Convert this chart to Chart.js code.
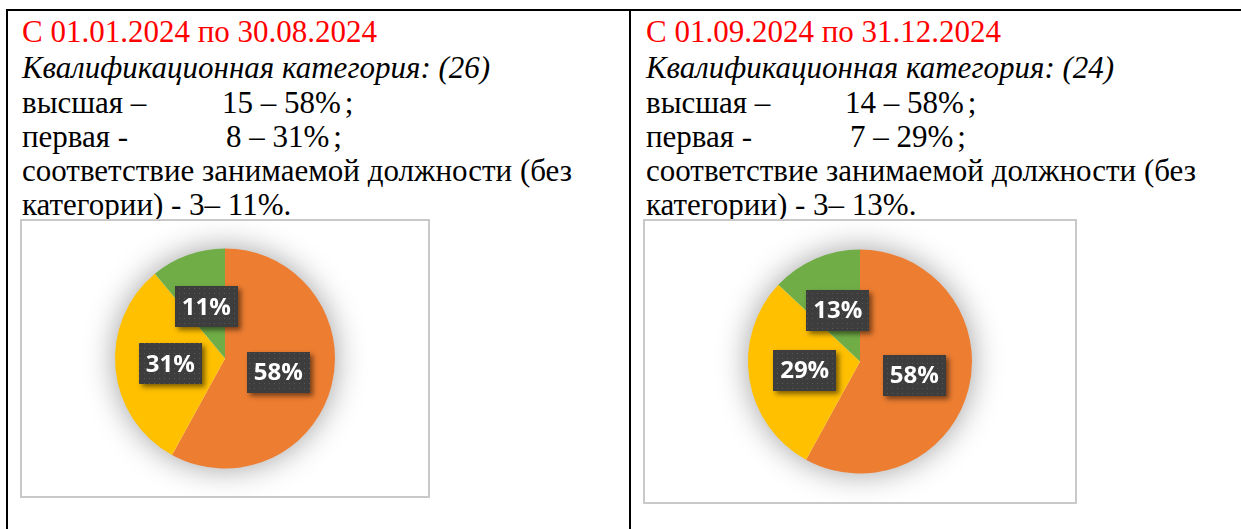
<!DOCTYPE html>
<html>
<head>
<meta charset="utf-8">
<style>
  html, body { margin: 0; padding: 0; background: #fff; }
  body { width: 1241px; height: 529px; position: relative; overflow: hidden; }
  .rule { position: absolute; background: #000; }
  .ln { position: absolute; font-family: 'Liberation Serif', serif !important; font-size: 31px; line-height: 31px; white-space: nowrap; color: #000; }
  .ln span { font-family: 'Liberation Serif', serif !important; }
  .red { color: #ff0000; }
  .it { font-style: italic; }
  .semi { margin-left: 4px; }
  .box { position: absolute; border: 2px solid #c9c9c9; box-sizing: border-box; background: #fff; }
  .box canvas { display: block; }
</style>
<script src="https://cdn.jsdelivr.net/npm/chart.js@4/dist/chart.umd.min.js"></script>
</head>
<body>
<div class="rule" style="left:6px; top:9px; width:1235px; height:2px;"></div>
<div class="rule" style="left:6px; top:9px; width:2px; height:520px;"></div>
<div class="rule" style="left:629px; top:9px; width:2px; height:520px;"></div>

<div class="ln red" style="font-family:'Liberation Serif',serif !important; left:22px; top:16px;">С 01.01.2024 по 30.08.2024</div>
<div class="ln it" style="font-family:'Liberation Serif',serif !important; left:22px; top:52px;">Квалификационная категория: (26)</div>
<div class="ln" style="font-family:'Liberation Serif',serif !important; left:22px; top:87px;">высшая –</div>
<div class="ln" style="font-family:'Liberation Serif',serif !important; left:222px; top:87px;">15 – 58%<span class="semi">;</span></div>
<div class="ln" style="font-family:'Liberation Serif',serif !important; left:22px; top:121px;">первая -</div>
<div class="ln" style="font-family:'Liberation Serif',serif !important; left:226px; top:121px;">8 – 31%<span class="semi">;</span></div>
<div class="ln" style="font-family:'Liberation Serif',serif !important; left:22px; top:155px;">соответствие занимаемой должности (без</div>
<div class="ln" style="font-family:'Liberation Serif',serif !important; left:22px; top:189px;">категории) - 3– 11%.</div>
<div class="box" style="left:20px; top:219px; width:410px; height:279px;"><canvas id="pieA" width="406" height="275"></canvas></div>

<div class="ln red" style="font-family:'Liberation Serif',serif !important; left:646px; top:16px;">С 01.09.2024 по 31.12.2024</div>
<div class="ln it" style="font-family:'Liberation Serif',serif !important; left:646px; top:52px;">Квалификационная категория: (24)</div>
<div class="ln" style="font-family:'Liberation Serif',serif !important; left:646px; top:87px;">высшая –</div>
<div class="ln" style="font-family:'Liberation Serif',serif !important; left:845px; top:87px;">14 – 58%<span class="semi">;</span></div>
<div class="ln" style="font-family:'Liberation Serif',serif !important; left:646px; top:121px;">первая -</div>
<div class="ln" style="font-family:'Liberation Serif',serif !important; left:850px; top:121px;">7 – 29%<span class="semi">;</span></div>
<div class="ln" style="font-family:'Liberation Serif',serif !important; left:646px; top:155px;">соответствие занимаемой должности (без</div>
<div class="ln" style="font-family:'Liberation Serif',serif !important; left:646px; top:189px;">категории) - 3– 13%.</div>
<div class="box" style="left:643px; top:219px; width:434px; height:285px;"><canvas id="pieB" width="430" height="281"></canvas></div>

<script>
const categories = ['высшая', 'первая', 'соответствие занимаемой должности (без категории)'];
const shareA = [58, 31, 11];   // 01.01.2024 - 30.08.2024, %
const shareB = [58, 29, 13];   // 01.09.2024 - 31.12.2024, %
const sliceColors = ['#ED7D31', '#FFC000', '#70AD47'];

// dark dotted fill for the value boxes
function dotPattern(ctx) {
  const c = document.createElement('canvas');
  c.width = 5; c.height = 5;
  const p = c.getContext('2d');
  p.fillStyle = '#3d3d3d';
  p.fillRect(0, 0, 5, 5);
  p.fillStyle = '#585858';
  p.fillRect(2, 2, 1, 1);
  return ctx.createPattern(c, 'repeat');
}

// soft glow behind the whole pie
const pieShadow = {
  id: 'pieShadow',
  beforeDatasetsDraw(chart) {
    const arc = chart.getDatasetMeta(0).data[0];
    if (!arc) return;
    const ctx = chart.ctx;
    ctx.save();
    ctx.shadowColor = 'rgba(0,0,0,0.4)';
    ctx.shadowBlur = 32;
    ctx.fillStyle = '#fff';
    ctx.beginPath();
    ctx.arc(arc.x, arc.y, arc.outerRadius - 1, 0, Math.PI * 2);
    ctx.fill();
    ctx.restore();
  }
};

const valueBoxes = {
  id: 'valueBoxes',
  afterDatasetsDraw(chart) {
    const ctx = chart.ctx;
    const data = chart.data.datasets[0].data;
    const fill = dotPattern(ctx);
    chart.getDatasetMeta(0).data.forEach((arc, i) => {
      const pt = arc.getCenterPoint();
      const w = 63, h = 41;
      const x = Math.round(pt.x - w / 2), y = Math.round(pt.y - h / 2);
      ctx.save();
      ctx.shadowColor = 'rgba(0,0,0,0.5)';
      ctx.shadowBlur = 5;
      ctx.shadowOffsetX = 3;
      ctx.shadowOffsetY = 3;
      ctx.fillStyle = '#3d3d3d';
      ctx.fillRect(x, y, w, h);
      ctx.restore();
      ctx.save();
      ctx.fillStyle = fill;
      ctx.fillRect(x, y, w, h);
      ctx.fillStyle = '#fff';
      ctx.font = 'bold 24px "Open Sans"';
      ctx.textAlign = 'center';
      ctx.textBaseline = 'middle';
      ctx.fillText(data[i] + '%', pt.x, pt.y + 1);
      ctx.restore();
    });
  }
};

function makePie(id, values, radius) {
  return new Chart(document.getElementById(id), {
    type: 'pie',
    data: {
      labels: categories,
      datasets: [{
        data: values,
        backgroundColor: sliceColors,
        borderWidth: 0,
        radius: radius
      }]
    },
    options: {
      responsive: false,
      animation: false,
      layout: { padding: 0 },
      plugins: {
        legend: { display: false },
        tooltip: { enabled: false }
      }
    },
    plugins: [pieShadow, valueBoxes]
  });
}

makePie('pieA', shareA, 110);
makePie('pieB', shareB, 112);
</script>
</body>
</html>
